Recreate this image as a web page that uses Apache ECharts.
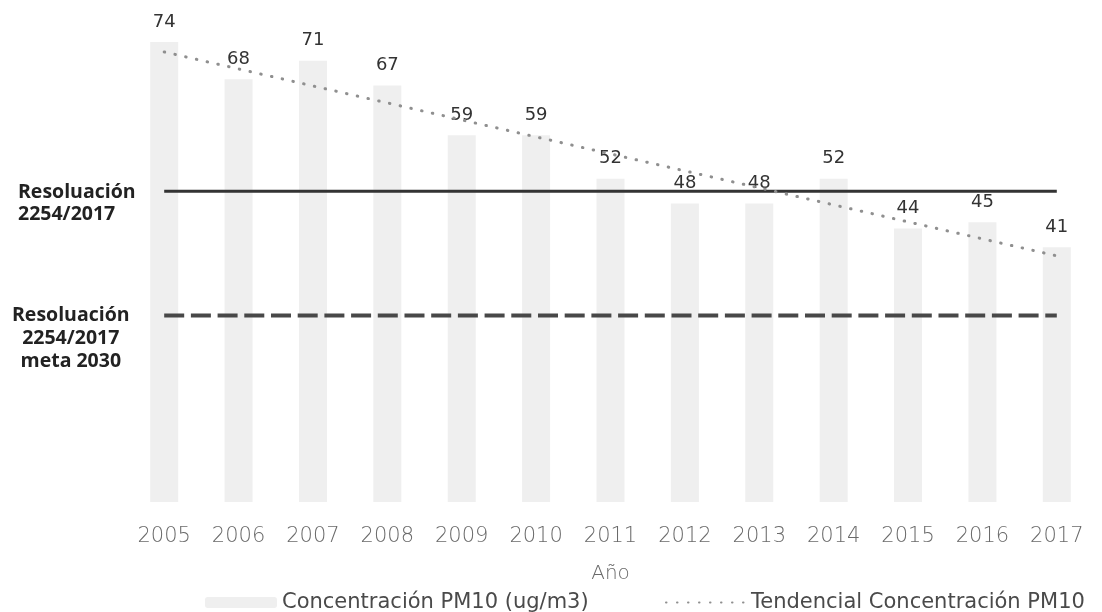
<!DOCTYPE html>
<html><head><meta charset="utf-8">
<script src="https://cdn.jsdelivr.net/npm/echarts@6/dist/echarts.min.js"></script>
<style>html,body{margin:0;padding:0;background:#fff}#c{width:1102px;height:612px}</style>
</head><body><div id="c"></div>
<script>
const years = ['2005','2006','2007','2008','2009','2010','2011','2012','2013','2014','2015','2016','2017'];
const pm10 = [74, 68, 71, 67, 59, 59, 52, 48, 48, 52, 44, 45, 41];
// trend line: value at first and last year
const trendEnds = [72.4, 39.6];
const resolucionLimit = 50;
const meta2030Limit = 30;
const barName = 'Concentración PM10 (ug/m3)';
const trendName = 'Tendencial Concentración PM10';

const trendData = years.map((y, i) => i === 0 ? trendEnds[0] : (i === years.length - 1 ? trendEnds[1] : null));
const resData = years.map(() => resolucionLimit);
const metaData = years.map(() => meta2030Limit);

const legendText = {color: '#4a4a4a', fontSize: 21, fontFamily: 'DejaVu Sans'};
const chart = echarts.init(document.getElementById('c'), null, {renderer: 'canvas'});
chart.setOption({
  backgroundColor: '#ffffff',
  animation: false,
  grid: {left: 127, right: 8, top: 42, bottom: 110},
  xAxis: {
    type: 'category', data: years,
    axisLine: {show: false}, axisTick: {show: false},
    axisLabel: {color: '#6a6a6a', fontSize: 21, fontFamily: 'DejaVu Sans', fontWeight: 200, margin: 24},
    name: 'Año', nameLocation: 'middle', nameGap: 62,
    nameTextStyle: {color: '#6a6a6a', fontSize: 20, fontFamily: 'DejaVu Sans', fontWeight: 200}
  },
  yAxis: {type: 'value', min: 0, max: 74, show: false, splitLine: {show: false}},
  legend: [
    {left: 200, top: 587, itemWidth: 72, itemHeight: 11, textStyle: legendText, data: [barName]},
    {left: 660, top: 587, itemWidth: 80, itemHeight: 11, textStyle: legendText,
     data: [{name: trendName, itemStyle: {opacity: 0}}]}
  ],
  graphic: [
    {type: 'text', left: 18, top: 182, style: {text: 'Resoluación\n2254/2017', font: 'bold 19.5px "Open Sans"', fill: '#222', lineHeight: 21.5}},
    {type: 'text', left: 12, top: 304, style: {text: 'Resoluación\n2254/2017\nmeta 2030', font: 'bold 19.5px "Open Sans"', fill: '#222', lineHeight: 23, textAlign: 'center', x: 58}}
  ],
  series: [
    {
      name: barName, type: 'bar', data: pm10, barWidth: 28,
      itemStyle: {color: '#efefef'},
      label: {show: true, position: 'top', distance: 11, color: '#333', fontSize: 18, fontFamily: 'DejaVu Sans'},
      z: 1
    },
    {
      name: 'Resoluación 2254/2017', type: 'line', data: resData, symbol: 'none',
      lineStyle: {color: '#333', width: 3}, z: 3, silent: true
    },
    {
      name: 'Resoluación 2254/2017 meta 2030', type: 'line', data: metaData, symbol: 'none',
      lineStyle: {color: '#484848', width: 4, type: [20, 6.7]}, z: 3, silent: true
    },
    {
      name: trendName, type: 'line', data: trendData, connectNulls: true, symbol: 'none',
      itemStyle: {color: '#8f8f8f'},
      lineStyle: {color: '#8f8f8f', width: 3, type: [0.5, 10.5], cap: 'round'}, z: 4
    }
  ]
});
</script></body></html>
